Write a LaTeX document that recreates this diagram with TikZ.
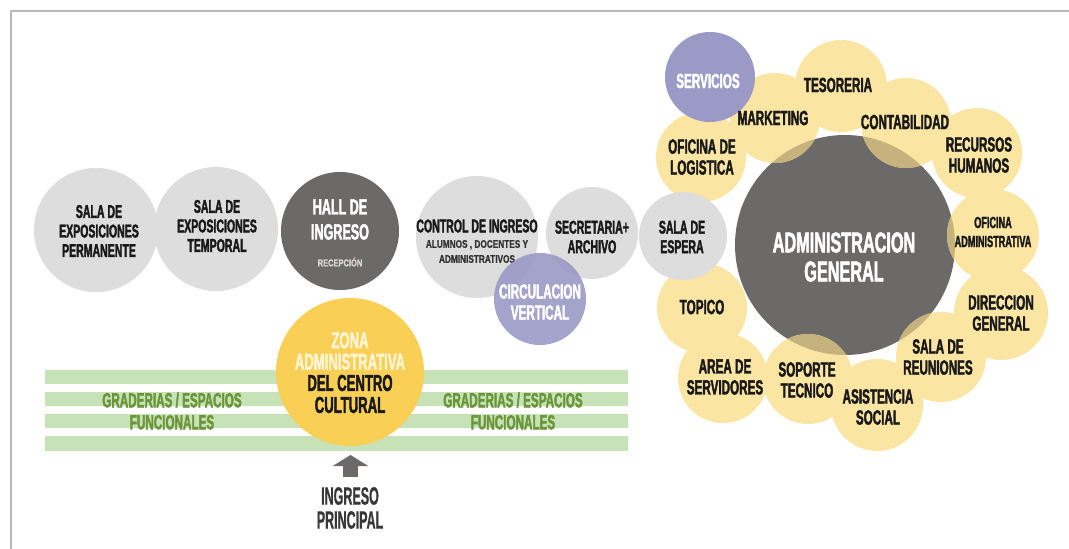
\documentclass[tikz,border=0pt]{standalone}
\usepackage{fontspec}
\newfontfamily\cf[FakeStretch=0.57,FakeBold=1.8]{Liberation Sans}
\newfontfamily\cfn[FakeStretch=0.5,FakeBold=0.6]{Liberation Sans}
\newfontfamily\cfw[FakeStretch=0.75,FakeBold=0.8]{Liberation Sans}
\usetikzlibrary{arrows.meta}
\definecolor{greyL}{RGB}{221,221,221}
\definecolor{greyD}{RGB}{108,105,105}
\definecolor{purp}{RGB}{155,153,198}
\definecolor{yelL}{RGB}{250,229,163}
\definecolor{tanY}{RGB}{198,178,124}
\definecolor{zona}{RGB}{249,208,85}
\definecolor{greenbar}{RGB}{199,226,182}
\definecolor{greentxt}{RGB}{106,150,58}
\definecolor{txt}{RGB}{25,25,25}
\definecolor{frame}{RGB}{185,185,185}
\definecolor{zonatxt}{RGB}{255,244,212}
\def\yellowlist{mkt/775/118/45,tes/841/86/46,cont/906/123/45,rrhh/977/153/45,logi/701/157/45,ofad/993/235/46,dirg/1001/313/47,reun/941/357/45,asis/877/405/46,sopo/808/379/45,serv/723/378/45,topi/702/308/45}
\begin{document}
\begin{tikzpicture}[x=1pt,y=-1pt,
  bub/.style={circle, inner sep=0pt, draw=none},
  lbl/.style={font=\cf\bfseries\fontsize{18.5}{19.5}\selectfont, text=txt, align=center, inner sep=0pt},
  clbl/.style={font=\cf\bfseries\fontsize{20.5}{21}\selectfont, text=txt, align=center, inner sep=0pt},
  small/.style={font=\cfw\bfseries\fontsize{11}{15}\selectfont, text={rgb,255:red,50;green,50;blue,50}, align=center, inner sep=0pt},
  grad/.style={font=\cf\bfseries\fontsize{20.5}{22}\selectfont, text=greentxt, align=center, inner sep=0pt},
  bar/.style={fill=greenbar},
  bigarrow/.style={line width=15pt, greyD, -{Triangle[width=35pt,length=11pt]}}]
\useasboundingbox (0,0) rectangle (1069,549);
\fill[white] (0,0) rectangle (1069,549);
\draw[frame, line width=2pt] (11,549) -- (11,11) -- (1069,11);

% green bars
\fill[bar] (45,370) rectangle (628,384);
\fill[bar] (45,392) rectangle (628,406);
\fill[bar] (45,414) rectangle (628,428);
\fill[bar] (45,436) rectangle (628,451);

% left chain
\node[bub, fill=greyL, minimum size=124pt] (perm) at (96,230) {};
\node[bub, fill=greyL, minimum size=124pt] (temp) at (216,229) {};
\node[bub, fill=greyD, minimum size=118pt] (hall) at (340,231) {};
\node[bub, fill=greyL, minimum size=122pt] (ctrl) at (477,237) {};
\node[bub, fill=greyL, minimum size=92pt] (secr) at (592,233) {};
\node[lbl] (ctrlT) at (477,226) {CONTROL DE INGRESO};
\node[small] (ctrlS) at (477,251.5) {ALUMNOS , DOCENTES Y\\ADMINISTRATIVOS};
\node[bub, fill=purp, opacity=0.9, minimum size=92pt] (circ) at (540,299) {};
\node[bub, fill=zona, minimum size=148pt] (zon) at (350,372) {};

% administracion general cluster
\node[bub, fill=greyD, minimum size=220pt] (adm) at (845,245) {};
\foreach \n/\x/\y/\r in \yellowlist {
  \node[bub, fill=yelL, minimum size=\r*2pt] (\n) at (\x,\y) {};
}
\begin{scope}
  \clip (adm.center) circle (110pt);
  \foreach \n/\x/\y/\r in \yellowlist {
    \fill[tanY] (\x,\y) circle (\r pt);
  }
\end{scope}
\node[bub, fill=greyL, minimum size=88pt] (esp) at (683,236) {};
\node[bub, fill=purp, minimum size=90pt] (svc) at (710,77) {};

% labels left
\node[lbl] (permT) at (99,231) {SALA DE\\EXPOSICIONES\\PERMANENTE};
\node[lbl] (tempT) at (217,226) {SALA DE\\EXPOSICIONES\\TEMPORAL};
\node[lbl, text=white, font=\cf\bfseries\fontsize{22}{25}\selectfont] (hallT) at (340,219.5) {HALL DE\\INGRESO};
\node[small, text={rgb,255:red,222;green,216;blue,216}, font=\cfw\bfseries\fontsize{10}{12}\selectfont] (hallS) at (340,262) {RECEPCIÓN};
\node[lbl] (secrT) at (592,237) {SECRETARIA+\\ARCHIVO};
\node[lbl] (espT) at (682,237) {SALA DE\\ESPERA};
\node[clbl, text=white] (circT) at (540,302) {CIRCULACION\\VERTICAL};
\node[clbl, text=zonatxt, font=\cf\bfseries\fontsize{23}{21.5}\selectfont] (zonT) at (350,351) {ZONA\\ADMINISTRATIVA};
\node[clbl, font=\cf\bfseries\fontsize{23}{22}\selectfont] (zonB) at (350,394) {DEL CENTRO\\CULTURAL};
\node[grad] (gradL) at (172,411) {GRADERIAS / ESPACIOS\\FUNCIONALES};
\node[grad] (gradR) at (513,411) {GRADERIAS / ESPACIOS\\FUNCIONALES};

% entrance arrow
\coordinate (arrS) at (350.5,477);
\coordinate (arrE) at (350.5,455);
\draw[bigarrow] (arrS) -- (arrE);
\node[lbl, text={rgb,255:red,55;green,55;blue,55}, font=\cfn\bfseries\fontsize{25}{24}\selectfont] (ingT) at (350,508) {INGRESO\\PRINCIPAL};

% cluster labels
\node[clbl, text=white] (svcT) at (708,81) {SERVICIOS};
\node[clbl] (mktT) at (773,118) {MARKETING};
\node[clbl] (tesT) at (838,85) {TESORERIA};
\node[clbl] (contT) at (905,122) {CONTABILIDAD};
\node[clbl] (rrhhT) at (979,155) {RECURSOS\\HUMANOS};
\node[clbl] (logiT) at (702,157) {OFICINA DE\\LOGISTICA};
\node[clbl, font=\cf\bfseries\fontsize{16}{19}\selectfont] (ofadT) at (993,232) {OFICINA\\ADMINISTRATIVA};
\node[clbl] (dirgT) at (1001,313) {DIRECCION\\GENERAL};
\node[clbl] (reunT) at (938,357) {SALA DE\\REUNIONES};
\node[clbl] (asisT) at (878,407) {ASISTENCIA\\SOCIAL};
\node[clbl] (sopoT) at (807,380) {SOPORTE\\TECNICO};
\node[clbl] (servT) at (725,377) {AREA DE\\SERVIDORES};
\node[clbl] (topiT) at (702,307) {TOPICO};
\node[clbl, text=white, font=\cf\bfseries\fontsize{28.5}{29}\selectfont] (admT) at (844,257) {ADMINISTRACION\\GENERAL};
\end{tikzpicture}
\end{document}
